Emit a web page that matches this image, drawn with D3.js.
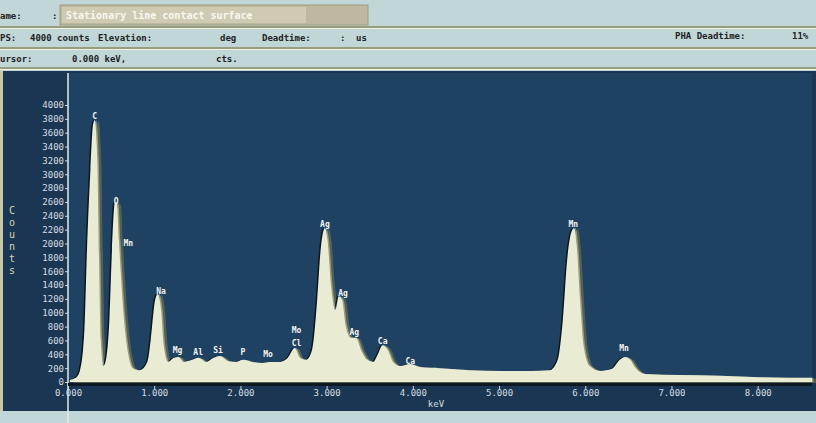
<!DOCTYPE html>
<html>
<head>
<meta charset="utf-8">
<script src="https://cdn.jsdelivr.net/npm/d3@7"></script>
<style>
  html, body { margin: 0; padding: 0; background: #c0d6d7; }
  svg { display: block; }
  .hdr { font-family: "DejaVu Sans Mono", monospace; font-size: 9px; font-weight: bold; fill: #222; }
  .tick text { font-family: "DejaVu Sans Mono", monospace; font-size: 9px; fill: #d4dde2; }
  .peak { font-family: "DejaVu Sans Mono", monospace; font-size: 8px; fill: #f4f4f0; font-weight: bold; }
</style>
</head>
<body>
<div id="chart"></div>
<script>
// spectrum: energy (keV) and counts
var energy = [0.02, 0.09, 0.14, 0.19, 0.22, 0.26, 0.29, 0.31, 0.34, 0.36, 0.38, 0.41,
  0.44, 0.48, 0.51, 0.545, 0.57, 0.59, 0.61, 0.65, 0.70, 0.75, 0.83, 0.92, 0.96, 1.01,
  1.04, 1.08, 1.11, 1.16, 1.23, 1.28, 1.34, 1.44, 1.51, 1.60, 1.69, 1.76, 1.86, 1.95,
  2.03, 2.13, 2.25, 2.34, 2.46, 2.55, 2.63, 2.69, 2.76, 2.83, 2.89, 2.93, 2.98, 3.01,
  3.05, 3.10, 3.14, 3.18, 3.22, 3.28, 3.34, 3.40, 3.47, 3.54, 3.59, 3.65, 3.71, 3.77,
  3.85, 3.97, 4.08, 4.31, 4.66, 5.01, 5.36, 5.59, 5.68, 5.74, 5.79, 5.84, 5.87, 5.90,
  5.94, 5.98, 6.05, 6.17, 6.31, 6.40, 6.46, 6.52, 6.59, 6.69, 7.10, 7.56, 8.02, 8.63];
var counts = [30, 60, 170, 750, 1900, 3060, 3710, 3780, 3200, 1760, 610, 230,
  320, 900, 1900, 2600, 2560, 2050, 1620, 900, 390, 200, 170, 290, 610, 1180,
  1270, 1040, 530, 290, 350, 360, 290, 320, 350, 290, 350, 375, 300, 290,
  320, 290, 275, 290, 290, 350, 490, 350, 320, 460, 1180, 1900, 2220, 2050,
  1400, 1040, 1240, 1180, 820, 640, 640, 460, 320, 290, 390, 530, 460, 290,
  230, 260, 215, 200, 170, 160, 160, 170, 320, 900, 1760, 2170, 2220, 1980,
  1180, 530, 230, 160, 190, 320, 360, 320, 190, 115, 100, 90, 70, 60];

// peak identification labels
var peakNames = ["C", "O", "Mn", "Na", "Mg", "Al", "Si", "P", "Mo", "Mo", "Cl",
  "Ag", "Ag", "Ag", "Ca", "Ca", "Mn", "Mn"];
var peakKeV = [0.31, 0.56, 0.70, 1.08, 1.27, 1.51, 1.74, 2.03, 2.32, 2.65, 2.65,
  2.98, 3.19, 3.32, 3.65, 3.97, 5.86, 6.45];
var peakLevel = [3840, 2610, 2005, 1300, 460, 430, 460, 430, 400, 750, 560,
  2280, 1285, 710, 590, 300, 2270, 490];

var yTicks = [0, 200, 400, 600, 800, 1000, 1200, 1400, 1600, 1800, 2000,
  2200, 2400, 2600, 2800, 3000, 3200, 3400, 3600, 3800, 4000];
var xTicks = [0, 1, 2, 3, 4, 5, 6, 7, 8];
var axisLetters = ["C", "o", "u", "n", "t", "s"];

var W = 816, H = 423;
var svg = d3.select("#chart").append("svg")
  .attr("width", W).attr("height", H);

// header rows
svg.append("rect").attr("x", 0).attr("y", 0).attr("width", W).attr("height", 72).attr("fill", "#c0d6d7");
[27, 48, 68].forEach(function (yy) {
  svg.append("line").attr("x1", 0).attr("x2", W).attr("y1", yy).attr("y2", yy)
    .attr("stroke", "#8a8a62").attr("stroke-width", 1.5);
  svg.append("line").attr("x1", 0).attr("x2", W).attr("y1", yy + 1.5).attr("y2", yy + 1.5)
    .attr("stroke", "#f0f0dc").attr("stroke-width", 1);
});
svg.append("text").attr("class", "hdr").attr("x", 0).attr("y", 19).text("ame:");
svg.append("text").attr("class", "hdr").attr("x", 52).attr("y", 19).text(":");
svg.append("rect").attr("x", 60).attr("y", 5).attr("width", 308).attr("height", 20)
  .attr("fill", "#bdb9a0").attr("stroke", "#9d9a80");
svg.append("rect").attr("x", 62).attr("y", 7).attr("width", 244).attr("height", 16).attr("fill", "#cfcbb2");
svg.append("text").attr("class", "hdr").attr("x", 66).attr("y", 19)
  .style("fill", "#f8f8f0").style("font-size", "10px").text("Stationary line contact surface");

svg.append("text").attr("class", "hdr").attr("x", 0).attr("y", 41).text("PS:");
svg.append("text").attr("class", "hdr").attr("x", 30).attr("y", 41).text("4000 counts");
svg.append("text").attr("class", "hdr").attr("x", 98).attr("y", 41).text("Elevation:");
svg.append("text").attr("class", "hdr").attr("x", 220).attr("y", 41).text("deg");
svg.append("text").attr("class", "hdr").attr("x", 262).attr("y", 41).text("Deadtime:");
svg.append("text").attr("class", "hdr").attr("x", 340).attr("y", 41).text(":");
svg.append("text").attr("class", "hdr").attr("x", 356).attr("y", 41).text("us");
svg.append("text").attr("class", "hdr").attr("x", 675).attr("y", 39).text("PHA Deadtime:");
svg.append("text").attr("class", "hdr").attr("x", 792).attr("y", 39).text("11%");

svg.append("text").attr("class", "hdr").attr("x", 0).attr("y", 62).text("ursor:");
svg.append("text").attr("class", "hdr").attr("x", 72).attr("y", 62).text("0.000 keV,");
svg.append("text").attr("class", "hdr").attr("x", 216).attr("y", 62).text("cts.");

// dark panel
svg.append("rect").attr("x", 0).attr("y", 71).attr("width", W).attr("height", 340).attr("fill", "#1b3652");
svg.append("rect").attr("x", 0).attr("y", 71).attr("width", 3).attr("height", 340).attr("fill", "#c9c7a0");
svg.append("rect").attr("x", 68).attr("y", 73).attr("width", 744).attr("height", 311).attr("fill", "#1f4162");
svg.append("rect").attr("x", 0).attr("y", 411).attr("width", W).attr("height", 12).attr("fill", "#c0d6d7");

var x = d3.scaleLinear().domain([0, 8.63]).range([68, 812]);
var y = d3.scaleLinear().domain([0, 4000]).range([382, 105]);

var spectrum = energy.map(function (e, i) { return { e: e, c: counts[i] }; });

var area = d3.area()
  .x(function (d) { return x(d.e); })
  .y0(y(0))
  .y1(function (d) { return y(d.c); })
  .curve(d3.curveMonotoneX);

// photo halo: dark edge on the left, warm glow on the right
svg.append("path").datum(spectrum).attr("d", area)
  .attr("transform", "translate(4,1)").attr("fill", "#8f7f3a").attr("opacity", 0.5);
svg.append("path").datum(spectrum).attr("d", area)
  .attr("transform", "translate(-1.5,0)").attr("fill", "#0a1620");
svg.append("path").datum(spectrum).attr("d", area)
  .attr("fill", "#e6eee2");
svg.append("path").datum(spectrum).attr("d", area)
  .attr("transform", "translate(1.5,0)").attr("fill", "#eee8c0").attr("opacity", 0.45);

// y axis
var yAxis = svg.append("g").attr("transform", "translate(68,0)")
  .call(d3.axisLeft(y).tickValues(yTicks).tickSize(3).tickFormat(d3.format("d")));
yAxis.select(".domain").remove();
yAxis.selectAll(".tick line").attr("stroke", "#c8d2d6");
yAxis.selectAll(".tick text").attr("x", -4);
svg.append("line").attr("x1", 68).attr("x2", 68).attr("y1", 73).attr("y2", 423)
  .attr("stroke", "#e6ecea").attr("stroke-width", 1.5);

// x axis band
svg.append("line").attr("x1", 68).attr("x2", 812).attr("y1", 384.5).attr("y2", 384.5)
  .attr("stroke", "#0c1822").attr("stroke-width", 3);
var xAxis = svg.append("g").attr("transform", "translate(0,386)")
  .call(d3.axisBottom(x).tickValues(xTicks).tickSize(3).tickFormat(d3.format(".3f")));
xAxis.select(".domain").remove();
xAxis.selectAll(".tick line").attr("stroke", "#c8d2d6");
xAxis.selectAll(".tick text").attr("y", 4);
svg.append("text").attr("x", 436).attr("y", 407).attr("text-anchor", "middle")
  .style("font-family", "DejaVu Sans Mono, monospace").style("font-size", "9px")
  .attr("fill", "#d4dde2").text("keV");

// vertical axis title, one letter per row
svg.append("g").selectAll("text").data(axisLetters).join("text")
  .attr("x", 12).attr("y", function (d, i) { return 214 + i * 12; })
  .attr("text-anchor", "middle")
  .style("font-family", "DejaVu Sans Mono, monospace").style("font-size", "10px")
  .attr("fill", "#d8d6b0").text(function (d) { return d; });

// peak labels
svg.append("g").selectAll("text").data(peakNames).join("text")
  .attr("class", "peak")
  .attr("x", function (d, i) { return x(peakKeV[i]); })
  .attr("y", function (d, i) { return y(peakLevel[i]); })
  .attr("text-anchor", "middle")
  .attr("dominant-baseline", "middle")
  .text(function (d) { return d; });
</script>
</body>
</html>
